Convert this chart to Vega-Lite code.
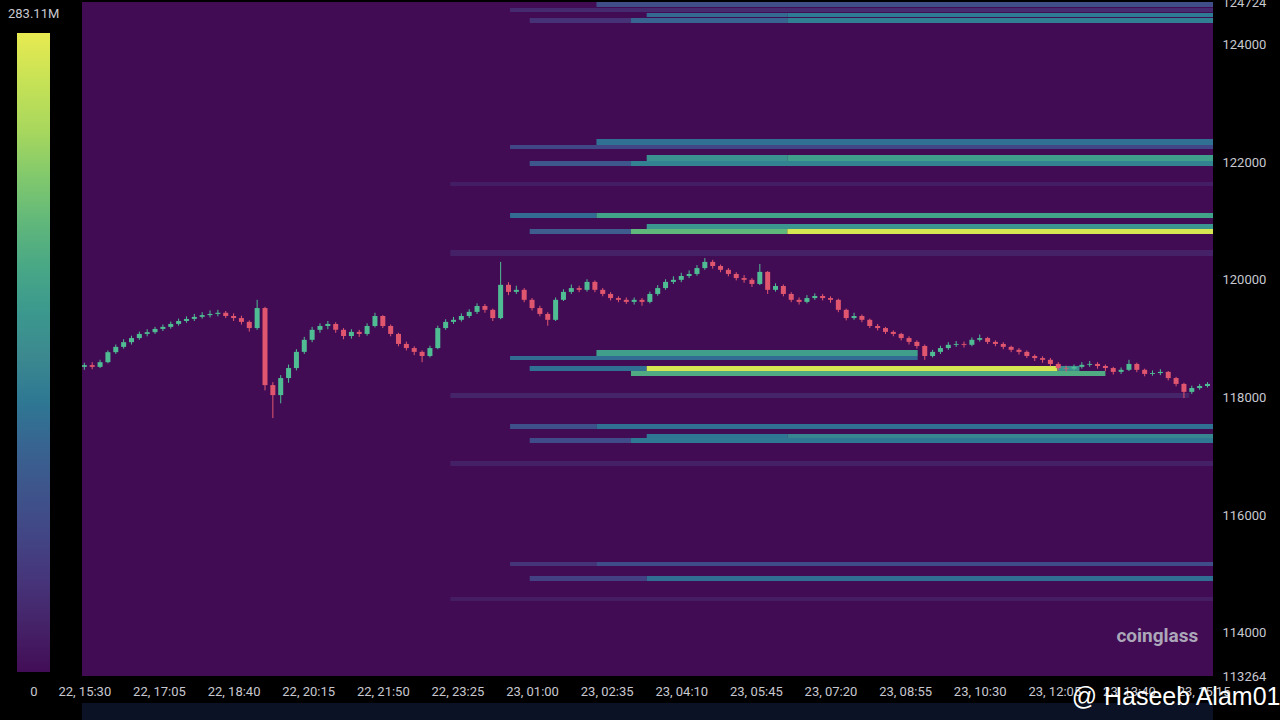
{
"$schema":"https://vega.github.io/schema/vega-lite/v6.json",
"width":1131,"height":674,
"autosize":{"type":"none"},
"padding":{"left":82,"top":2,"right":67,"bottom":44},
"background":"#000000",
"view":{"fill":"#420c55","stroke":null},
"title":{"text":"283.11M","orient":"top","anchor":"start","frame":"group","dx":-74,"dy":25,"fontSize":13,"fontWeight":"normal","color":"#c8c8d0","font":"Roboto","offset":0},
"datasets":{
"bands":[
{"t0":"2025-07-23T02:22Z","t1":"2025-07-23T15:27Z","p0":124639,"p1":124740,"v":71},
{"t0":"2025-07-23T00:32Z","t1":"2025-07-23T15:27Z","p0":124554,"p1":124622,"v":28},
{"t0":"2025-07-23T03:26Z","t1":"2025-07-23T06:25Z","p0":124469,"p1":124537,"v":105},
{"t0":"2025-07-23T06:25Z","t1":"2025-07-23T15:27Z","p0":124469,"p1":124537,"v":122},
{"t0":"2025-07-23T00:57Z","t1":"2025-07-23T03:06Z","p0":124367,"p1":124452,"v":38},
{"t0":"2025-07-23T03:06Z","t1":"2025-07-23T06:25Z","p0":124367,"p1":124452,"v":100},
{"t0":"2025-07-23T06:25Z","t1":"2025-07-23T15:27Z","p0":124367,"p1":124452,"v":128},
{"t0":"2025-07-23T02:22Z","t1":"2025-07-23T15:27Z","p0":122293,"p1":122395,"v":112},
{"t0":"2025-07-23T00:32Z","t1":"2025-07-23T15:27Z","p0":122225,"p1":122293,"v":62},
{"t0":"2025-07-23T03:26Z","t1":"2025-07-23T06:25Z","p0":122021,"p1":122123,"v":150},
{"t0":"2025-07-23T06:25Z","t1":"2025-07-23T15:27Z","p0":122021,"p1":122123,"v":168},
{"t0":"2025-07-23T00:57Z","t1":"2025-07-23T03:06Z","p0":121936,"p1":122021,"v":85},
{"t0":"2025-07-23T03:06Z","t1":"2025-07-23T15:27Z","p0":121936,"p1":122021,"v":132},
{"t0":"2025-07-22T23:16Z","t1":"2025-07-23T15:27Z","p0":121596,"p1":121664,"v":16},
{"t0":"2025-07-23T00:32Z","t1":"2025-07-23T02:22Z","p0":121052,"p1":121137,"v":108},
{"t0":"2025-07-23T02:22Z","t1":"2025-07-23T15:27Z","p0":121052,"p1":121137,"v":172},
{"t0":"2025-07-23T03:26Z","t1":"2025-07-23T15:27Z","p0":120865,"p1":120950,"v":156},
{"t0":"2025-07-23T00:57Z","t1":"2025-07-23T03:06Z","p0":120780,"p1":120865,"v":92},
{"t0":"2025-07-23T03:06Z","t1":"2025-07-23T06:25Z","p0":120780,"p1":120865,"v":198},
{"t0":"2025-07-23T06:25Z","t1":"2025-07-23T15:27Z","p0":120780,"p1":120865,"v":272},
{"t0":"2025-07-22T23:16Z","t1":"2025-07-23T15:27Z","p0":120406,"p1":120508,"v":20},
{"t0":"2025-07-23T02:22Z","t1":"2025-07-23T09:11Z","p0":118706,"p1":118808,"v":168},
{"t0":"2025-07-23T00:32Z","t1":"2025-07-23T09:11Z","p0":118638,"p1":118706,"v":108},
{"t0":"2025-07-23T00:57Z","t1":"2025-07-23T03:26Z","p0":118451,"p1":118536,"v":112},
{"t0":"2025-07-23T03:26Z","t1":"2025-07-23T12:09Z","p0":118451,"p1":118536,"v":272},
{"t0":"2025-07-23T12:09Z","t1":"2025-07-23T12:37Z","p0":118451,"p1":118536,"v":150},
{"t0":"2025-07-23T03:06Z","t1":"2025-07-23T13:10Z","p0":118366,"p1":118451,"v":185},
{"t0":"2025-07-22T23:16Z","t1":"2025-07-23T14:57Z","p0":117992,"p1":118077,"v":22},
{"t0":"2025-07-23T00:32Z","t1":"2025-07-23T02:22Z","p0":117465,"p1":117550,"v":75},
{"t0":"2025-07-23T02:22Z","t1":"2025-07-23T15:27Z","p0":117465,"p1":117550,"v":112},
{"t0":"2025-07-23T03:26Z","t1":"2025-07-23T06:25Z","p0":117312,"p1":117380,"v":118},
{"t0":"2025-07-23T06:25Z","t1":"2025-07-23T15:27Z","p0":117312,"p1":117380,"v":135},
{"t0":"2025-07-23T00:57Z","t1":"2025-07-23T03:06Z","p0":117227,"p1":117312,"v":70},
{"t0":"2025-07-23T03:06Z","t1":"2025-07-23T15:27Z","p0":117227,"p1":117312,"v":120},
{"t0":"2025-07-22T23:16Z","t1":"2025-07-23T15:27Z","p0":116836,"p1":116921,"v":18},
{"t0":"2025-07-23T00:32Z","t1":"2025-07-23T02:22Z","p0":115136,"p1":115204,"v":40},
{"t0":"2025-07-23T02:22Z","t1":"2025-07-23T15:27Z","p0":115136,"p1":115204,"v":72},
{"t0":"2025-07-23T00:57Z","t1":"2025-07-23T03:26Z","p0":114881,"p1":114966,"v":55},
{"t0":"2025-07-23T03:26Z","t1":"2025-07-23T15:27Z","p0":114881,"p1":114966,"v":110},
{"t0":"2025-07-22T23:16Z","t1":"2025-07-23T15:27Z","p0":114541,"p1":114609,"v":14}
],
"candles":[
{"t":"2025-07-22T15:30Z","o":118520,"h":118590,"l":118470,"c":118550},
{"t":"2025-07-22T15:40Z","o":118550,"h":118600,"l":118480,"c":118520},
{"t":"2025-07-22T15:50Z","o":118520,"h":118640,"l":118500,"c":118600},
{"t":"2025-07-22T16:00Z","o":118600,"h":118800,"l":118580,"c":118770},
{"t":"2025-07-22T16:10Z","o":118770,"h":118900,"l":118740,"c":118860},
{"t":"2025-07-22T16:20Z","o":118860,"h":118990,"l":118830,"c":118940},
{"t":"2025-07-22T16:30Z","o":118940,"h":119050,"l":118900,"c":119010},
{"t":"2025-07-22T16:40Z","o":119010,"h":119120,"l":118980,"c":119080},
{"t":"2025-07-22T16:50Z","o":119080,"h":119160,"l":119040,"c":119110},
{"t":"2025-07-22T17:00Z","o":119110,"h":119200,"l":119080,"c":119165},
{"t":"2025-07-22T17:10Z","o":119165,"h":119240,"l":119130,"c":119200},
{"t":"2025-07-22T17:20Z","o":119200,"h":119290,"l":119170,"c":119250},
{"t":"2025-07-22T17:30Z","o":119250,"h":119340,"l":119220,"c":119300},
{"t":"2025-07-22T17:40Z","o":119300,"h":119380,"l":119270,"c":119335},
{"t":"2025-07-22T17:50Z","o":119335,"h":119420,"l":119300,"c":119370},
{"t":"2025-07-22T18:00Z","o":119370,"h":119450,"l":119340,"c":119400},
{"t":"2025-07-22T18:10Z","o":119400,"h":119480,"l":119360,"c":119420},
{"t":"2025-07-22T18:20Z","o":119420,"h":119490,"l":119380,"c":119440},
{"t":"2025-07-22T18:30Z","o":119440,"h":119470,"l":119350,"c":119385},
{"t":"2025-07-22T18:40Z","o":119385,"h":119430,"l":119300,"c":119350},
{"t":"2025-07-22T18:50Z","o":119350,"h":119390,"l":119240,"c":119285},
{"t":"2025-07-22T19:00Z","o":119285,"h":119310,"l":119120,"c":119180},
{"t":"2025-07-22T19:10Z","o":119180,"h":119660,"l":119150,"c":119520},
{"t":"2025-07-22T19:20Z","o":119520,"h":119540,"l":118120,"c":118210},
{"t":"2025-07-22T19:30Z","o":118210,"h":118260,"l":117650,"c":118040},
{"t":"2025-07-22T19:40Z","o":118040,"h":118380,"l":117900,"c":118330},
{"t":"2025-07-22T19:50Z","o":118330,"h":118560,"l":118250,"c":118500},
{"t":"2025-07-22T20:00Z","o":118500,"h":118820,"l":118460,"c":118775},
{"t":"2025-07-22T20:10Z","o":118775,"h":119030,"l":118740,"c":118980},
{"t":"2025-07-22T20:20Z","o":118980,"h":119200,"l":118940,"c":119150},
{"t":"2025-07-22T20:30Z","o":119150,"h":119260,"l":119100,"c":119215},
{"t":"2025-07-22T20:40Z","o":119215,"h":119300,"l":119160,"c":119250},
{"t":"2025-07-22T20:50Z","o":119250,"h":119280,"l":119100,"c":119150},
{"t":"2025-07-22T21:00Z","o":119150,"h":119180,"l":118990,"c":119045},
{"t":"2025-07-22T21:10Z","o":119045,"h":119160,"l":119000,"c":119115},
{"t":"2025-07-22T21:20Z","o":119115,"h":119150,"l":119030,"c":119080},
{"t":"2025-07-22T21:30Z","o":119080,"h":119260,"l":119050,"c":119215},
{"t":"2025-07-22T21:40Z","o":119215,"h":119440,"l":119190,"c":119385},
{"t":"2025-07-22T21:50Z","o":119385,"h":119400,"l":119180,"c":119215},
{"t":"2025-07-22T22:00Z","o":119215,"h":119240,"l":119040,"c":119080},
{"t":"2025-07-22T22:10Z","o":119080,"h":119100,"l":118870,"c":118910},
{"t":"2025-07-22T22:20Z","o":118910,"h":118950,"l":118800,"c":118840},
{"t":"2025-07-22T22:30Z","o":118840,"h":118870,"l":118720,"c":118775},
{"t":"2025-07-22T22:40Z","o":118775,"h":118800,"l":118600,"c":118705},
{"t":"2025-07-22T22:50Z","o":118705,"h":118880,"l":118680,"c":118840},
{"t":"2025-07-22T23:00Z","o":118840,"h":119220,"l":118820,"c":119180},
{"t":"2025-07-22T23:10Z","o":119180,"h":119330,"l":119150,"c":119285},
{"t":"2025-07-22T23:20Z","o":119285,"h":119370,"l":119250,"c":119320},
{"t":"2025-07-22T23:30Z","o":119320,"h":119430,"l":119290,"c":119385},
{"t":"2025-07-22T23:40Z","o":119385,"h":119500,"l":119350,"c":119455},
{"t":"2025-07-22T23:50Z","o":119455,"h":119600,"l":119420,"c":119555},
{"t":"2025-07-23T00:00Z","o":119555,"h":119590,"l":119440,"c":119490},
{"t":"2025-07-23T00:10Z","o":119490,"h":119510,"l":119300,"c":119350},
{"t":"2025-07-23T00:20Z","o":119350,"h":120305,"l":119330,"c":119915},
{"t":"2025-07-23T00:30Z","o":119915,"h":119960,"l":119740,"c":119795},
{"t":"2025-07-23T00:40Z","o":119795,"h":119900,"l":119760,"c":119830},
{"t":"2025-07-23T00:50Z","o":119830,"h":119860,"l":119620,"c":119660},
{"t":"2025-07-23T01:00Z","o":119660,"h":119690,"l":119480,"c":119520},
{"t":"2025-07-23T01:10Z","o":119520,"h":119560,"l":119380,"c":119420},
{"t":"2025-07-23T01:20Z","o":119420,"h":119450,"l":119220,"c":119320},
{"t":"2025-07-23T01:30Z","o":119320,"h":119700,"l":119300,"c":119660},
{"t":"2025-07-23T01:40Z","o":119660,"h":119840,"l":119640,"c":119795},
{"t":"2025-07-23T01:50Z","o":119795,"h":119920,"l":119760,"c":119860},
{"t":"2025-07-23T02:00Z","o":119860,"h":119900,"l":119790,"c":119830},
{"t":"2025-07-23T02:10Z","o":119830,"h":120010,"l":119800,"c":119965},
{"t":"2025-07-23T02:20Z","o":119965,"h":119990,"l":119790,"c":119830},
{"t":"2025-07-23T02:30Z","o":119830,"h":119860,"l":119720,"c":119760},
{"t":"2025-07-23T02:40Z","o":119760,"h":119790,"l":119650,"c":119690},
{"t":"2025-07-23T02:50Z","o":119690,"h":119720,"l":119620,"c":119660},
{"t":"2025-07-23T03:00Z","o":119660,"h":119700,"l":119590,"c":119625},
{"t":"2025-07-23T03:10Z","o":119625,"h":119700,"l":119580,"c":119660},
{"t":"2025-07-23T03:20Z","o":119660,"h":119690,"l":119560,"c":119625},
{"t":"2025-07-23T03:30Z","o":119625,"h":119800,"l":119600,"c":119760},
{"t":"2025-07-23T03:40Z","o":119760,"h":119910,"l":119730,"c":119860},
{"t":"2025-07-23T03:50Z","o":119860,"h":120010,"l":119830,"c":119965},
{"t":"2025-07-23T04:00Z","o":119965,"h":120060,"l":119930,"c":120000},
{"t":"2025-07-23T04:10Z","o":120000,"h":120120,"l":119960,"c":120065},
{"t":"2025-07-23T04:20Z","o":120065,"h":120160,"l":120030,"c":120100},
{"t":"2025-07-23T04:30Z","o":120100,"h":120250,"l":120070,"c":120200},
{"t":"2025-07-23T04:40Z","o":120200,"h":120370,"l":120170,"c":120305},
{"t":"2025-07-23T04:50Z","o":120305,"h":120340,"l":120190,"c":120235},
{"t":"2025-07-23T05:00Z","o":120235,"h":120260,"l":120130,"c":120170},
{"t":"2025-07-23T05:10Z","o":120170,"h":120200,"l":120060,"c":120100},
{"t":"2025-07-23T05:20Z","o":120100,"h":120130,"l":119990,"c":120030},
{"t":"2025-07-23T05:30Z","o":120030,"h":120080,"l":119950,"c":120000},
{"t":"2025-07-23T05:40Z","o":120000,"h":120030,"l":119880,"c":119930},
{"t":"2025-07-23T05:50Z","o":119930,"h":120270,"l":119910,"c":120135},
{"t":"2025-07-23T06:00Z","o":120135,"h":120150,"l":119760,"c":119830},
{"t":"2025-07-23T06:10Z","o":119830,"h":119940,"l":119800,"c":119895},
{"t":"2025-07-23T06:20Z","o":119895,"h":119920,"l":119720,"c":119760},
{"t":"2025-07-23T06:30Z","o":119760,"h":119790,"l":119620,"c":119660},
{"t":"2025-07-23T06:40Z","o":119660,"h":119700,"l":119580,"c":119625},
{"t":"2025-07-23T06:50Z","o":119625,"h":119740,"l":119600,"c":119690},
{"t":"2025-07-23T07:00Z","o":119690,"h":119770,"l":119660,"c":119725},
{"t":"2025-07-23T07:10Z","o":119725,"h":119760,"l":119650,"c":119690},
{"t":"2025-07-23T07:20Z","o":119690,"h":119720,"l":119610,"c":119660},
{"t":"2025-07-23T07:30Z","o":119660,"h":119680,"l":119450,"c":119490},
{"t":"2025-07-23T07:40Z","o":119490,"h":119510,"l":119310,"c":119350},
{"t":"2025-07-23T07:50Z","o":119350,"h":119440,"l":119320,"c":119385},
{"t":"2025-07-23T08:00Z","o":119385,"h":119410,"l":119280,"c":119320},
{"t":"2025-07-23T08:10Z","o":119320,"h":119340,"l":119180,"c":119215},
{"t":"2025-07-23T08:20Z","o":119215,"h":119250,"l":119140,"c":119180},
{"t":"2025-07-23T08:30Z","o":119180,"h":119200,"l":119080,"c":119115},
{"t":"2025-07-23T08:40Z","o":119115,"h":119140,"l":119040,"c":119080},
{"t":"2025-07-23T08:50Z","o":119080,"h":119100,"l":118970,"c":119010},
{"t":"2025-07-23T09:00Z","o":119010,"h":119040,"l":118900,"c":118945},
{"t":"2025-07-23T09:10Z","o":118945,"h":118970,"l":118830,"c":118875},
{"t":"2025-07-23T09:20Z","o":118875,"h":118900,"l":118640,"c":118705},
{"t":"2025-07-23T09:30Z","o":118705,"h":118810,"l":118680,"c":118775},
{"t":"2025-07-23T09:40Z","o":118775,"h":118880,"l":118740,"c":118840},
{"t":"2025-07-23T09:50Z","o":118840,"h":118940,"l":118810,"c":118895},
{"t":"2025-07-23T10:00Z","o":118895,"h":118960,"l":118860,"c":118910},
{"t":"2025-07-23T10:10Z","o":118910,"h":118950,"l":118850,"c":118895},
{"t":"2025-07-23T10:20Z","o":118895,"h":119020,"l":118870,"c":118980},
{"t":"2025-07-23T10:30Z","o":118980,"h":119070,"l":118950,"c":119010},
{"t":"2025-07-23T10:40Z","o":119010,"h":119030,"l":118910,"c":118945},
{"t":"2025-07-23T10:50Z","o":118945,"h":118970,"l":118870,"c":118910},
{"t":"2025-07-23T11:00Z","o":118910,"h":118940,"l":118820,"c":118860},
{"t":"2025-07-23T11:10Z","o":118860,"h":118880,"l":118770,"c":118810},
{"t":"2025-07-23T11:20Z","o":118810,"h":118840,"l":118730,"c":118775},
{"t":"2025-07-23T11:30Z","o":118775,"h":118800,"l":118670,"c":118705},
{"t":"2025-07-23T11:40Z","o":118705,"h":118730,"l":118620,"c":118670},
{"t":"2025-07-23T11:50Z","o":118670,"h":118700,"l":118590,"c":118640},
{"t":"2025-07-23T12:00Z","o":118640,"h":118670,"l":118530,"c":118570},
{"t":"2025-07-23T12:10Z","o":118570,"h":118600,"l":118460,"c":118500},
{"t":"2025-07-23T12:20Z","o":118500,"h":118540,"l":118440,"c":118490},
{"t":"2025-07-23T12:30Z","o":118490,"h":118560,"l":118460,"c":118520},
{"t":"2025-07-23T12:40Z","o":118520,"h":118600,"l":118490,"c":118555},
{"t":"2025-07-23T12:50Z","o":118555,"h":118620,"l":118520,"c":118570},
{"t":"2025-07-23T13:00Z","o":118570,"h":118600,"l":118490,"c":118535},
{"t":"2025-07-23T13:10Z","o":118535,"h":118560,"l":118450,"c":118500},
{"t":"2025-07-23T13:20Z","o":118500,"h":118520,"l":118390,"c":118435},
{"t":"2025-07-23T13:30Z","o":118435,"h":118510,"l":118400,"c":118470},
{"t":"2025-07-23T13:40Z","o":118470,"h":118640,"l":118450,"c":118570},
{"t":"2025-07-23T13:50Z","o":118570,"h":118590,"l":118430,"c":118470},
{"t":"2025-07-23T14:00Z","o":118470,"h":118490,"l":118360,"c":118400},
{"t":"2025-07-23T14:10Z","o":118400,"h":118460,"l":118370,"c":118415},
{"t":"2025-07-23T14:20Z","o":118415,"h":118480,"l":118380,"c":118435},
{"t":"2025-07-23T14:30Z","o":118435,"h":118450,"l":118290,"c":118330},
{"t":"2025-07-23T14:40Z","o":118330,"h":118350,"l":118190,"c":118230},
{"t":"2025-07-23T14:50Z","o":118230,"h":118250,"l":117990,"c":118095},
{"t":"2025-07-23T15:00Z","o":118095,"h":118200,"l":118060,"c":118160},
{"t":"2025-07-23T15:10Z","o":118160,"h":118230,"l":118130,"c":118195},
{"t":"2025-07-23T15:20Z","o":118195,"h":118260,"l":118170,"c":118230}
]
},
"layer":[
{"data":{"name":"bands"},
 "mark":{"type":"rect","clip":true},
 "encoding":{
  "x":{"field":"t0","type":"temporal",
   "scale":{"type":"utc","nice":false,"padding":0,"domain":[{"year":2025,"month":7,"date":22,"hours":15,"minutes":27,"utc":true},{"year":2025,"month":7,"date":23,"hours":15,"minutes":27,"utc":true}]},
   "axis":{"title":null,"format":"%d, %H:%M","labelColor":"#c8c8d0","labelFont":"Roboto","labelFontSize":13,"labelPadding":9,"ticks":false,"domain":false,"grid":false,"labelOverlap":false,"labelFlush":false,"labelBound":false,
    "values":[
     {"year":2025,"month":7,"date":22,"hours":15,"minutes":30,"utc":true},
     {"year":2025,"month":7,"date":22,"hours":17,"minutes":5,"utc":true},
     {"year":2025,"month":7,"date":22,"hours":18,"minutes":40,"utc":true},
     {"year":2025,"month":7,"date":22,"hours":20,"minutes":15,"utc":true},
     {"year":2025,"month":7,"date":22,"hours":21,"minutes":50,"utc":true},
     {"year":2025,"month":7,"date":22,"hours":23,"minutes":25,"utc":true},
     {"year":2025,"month":7,"date":23,"hours":1,"minutes":0,"utc":true},
     {"year":2025,"month":7,"date":23,"hours":2,"minutes":35,"utc":true},
     {"year":2025,"month":7,"date":23,"hours":4,"minutes":10,"utc":true},
     {"year":2025,"month":7,"date":23,"hours":5,"minutes":45,"utc":true},
     {"year":2025,"month":7,"date":23,"hours":7,"minutes":20,"utc":true},
     {"year":2025,"month":7,"date":23,"hours":8,"minutes":55,"utc":true},
     {"year":2025,"month":7,"date":23,"hours":10,"minutes":30,"utc":true},
     {"year":2025,"month":7,"date":23,"hours":12,"minutes":5,"utc":true},
     {"year":2025,"month":7,"date":23,"hours":13,"minutes":40,"utc":true},
     {"year":2025,"month":7,"date":23,"hours":15,"minutes":15,"utc":true}
    ]}},
  "x2":{"field":"t1"},
  "y":{"field":"p0","type":"quantitative",
   "scale":{"domain":[113264,124724],"nice":false,"zero":false,"padding":0},
   "axis":{"orient":"right","title":null,"format":"d","values":[113264,114000,116000,118000,120000,122000,124000,124724],"labelColor":"#c8c8d0","labelFont":"Roboto","labelFontSize":13,"labelPadding":9,"labelAlign":"left","ticks":false,"domain":false,"grid":false,"labelOverlap":false,"labelFlush":false,"labelBound":false}},
  "y2":{"field":"p1"},
  "color":{"field":"v","type":"quantitative",
   "scale":{"domain":[0,47.185,94.37,141.555,188.74,235.925,283.11],"range":["#420d56","#463a7f","#3e5e8e","#3e8a8f","#55ae7f","#a2d55e","#e8ea50"]},
   "legend":{"orient":"none","legendX":-65,"legendY":31,"direction":"vertical","gradientLength":639,"gradientThickness":33,"gradientStrokeWidth":0,"labelExpr":"''","labelOffset":0,"title":"0","titleOrient":"bottom","titleAnchor":"middle","titlePadding":14,"titleFontSize":13,"titleFontWeight":"normal","titleColor":"#c8c8d0","titleFont":"Roboto"}}
 }},
{"data":{"name":"candles"},
 "mark":{"type":"rule","strokeWidth":1,"clip":true},
 "encoding":{
  "x":{"field":"t","type":"temporal"},
  "y":{"field":"l","type":"quantitative"},
  "y2":{"field":"h"},
  "color":{"condition":{"test":"datum.c >= datum.o","value":"#4fbc93"},"value":"#e0566e"}}},
{"data":{"name":"candles"},
 "mark":{"type":"bar","size":5,"clip":true},
 "encoding":{
  "x":{"field":"t","type":"temporal"},
  "y":{"field":"o","type":"quantitative"},
  "y2":{"field":"c"},
  "color":{"condition":{"test":"datum.c >= datum.o","value":"#4fbc93"},"value":"#e0566e"}}},
{"data":{"values":[{"txt":"coinglass"}]},
 "mark":{"type":"text","align":"left","baseline":"middle","font":"Roboto","fontSize":19,"fontWeight":"bold","color":"#aba7b9"},
 "encoding":{
  "x":{"datum":{"year":2025,"month":7,"date":23,"hours":13,"minutes":24,"utc":true},"type":"temporal"},
  "y":{"datum":113944,"type":"quantitative"},
  "text":{"field":"txt"}}},
{"data":{"values":[{"x0":"2025-07-22T15:27Z","x1":"2025-07-23T15:27Z"}]},
 "mark":{"type":"rect","color":"#0c1225","clip":false},
 "encoding":{
  "x":{"field":"x0","type":"temporal"},
  "x2":{"field":"x1"},
  "y":{"datum":112805,"type":"quantitative"},
  "y2":{"datum":112480}}},
{"data":{"values":[{"txt":"@ Haseeb Alam01"}]},
 "mark":{"type":"text","align":"left","baseline":"middle","font":"Liberation Sans","fontSize":25,"color":"#ffffff","clip":false},
 "encoding":{
  "x":{"datum":{"year":2025,"month":7,"date":23,"hours":12,"minutes":27,"utc":true},"type":"temporal"},
  "y":{"datum":112907,"type":"quantitative"},
  "text":{"field":"txt"}}}
]
}
